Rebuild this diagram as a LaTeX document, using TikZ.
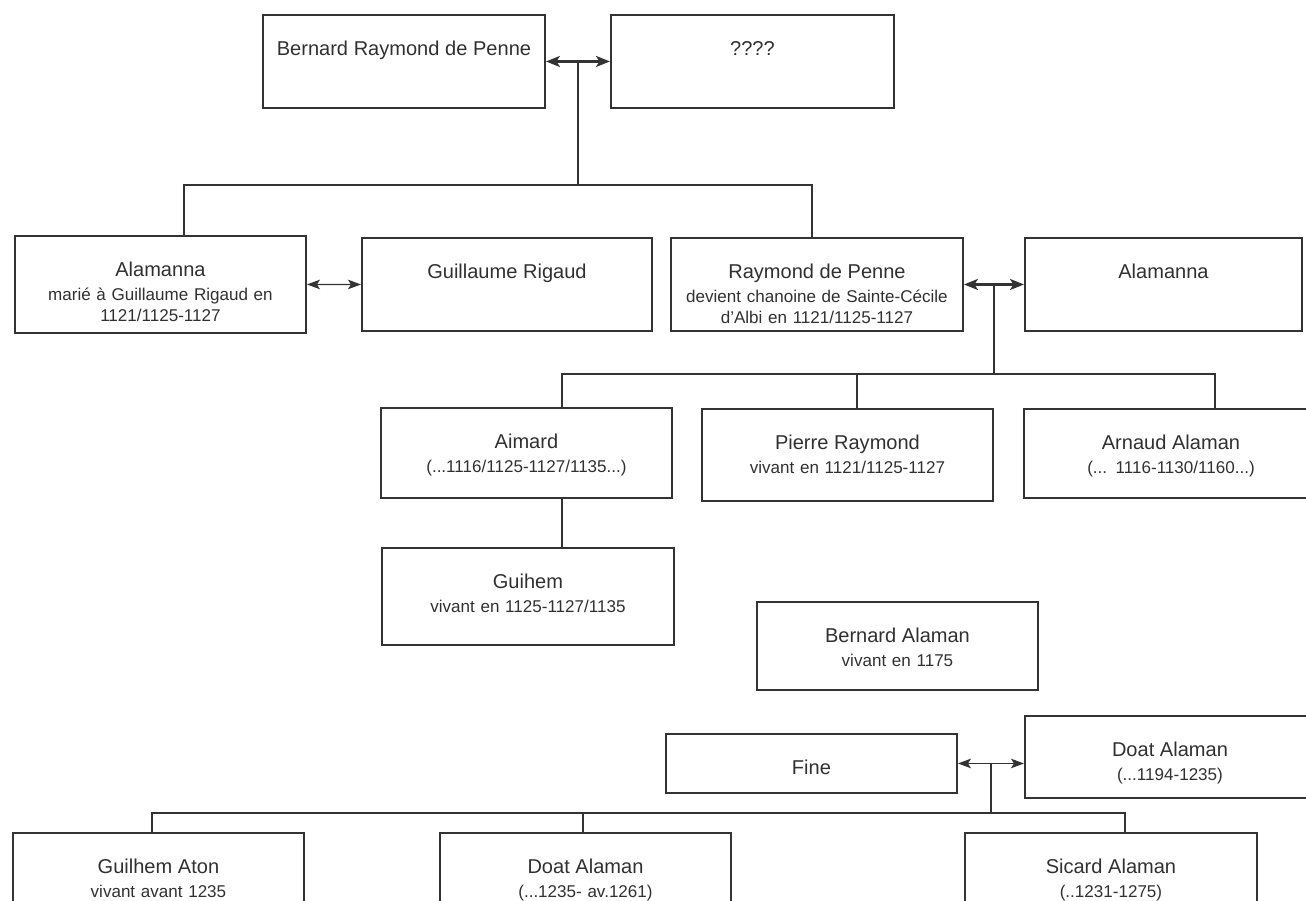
\documentclass[tikz,border=0pt]{standalone}
\usepackage{fontspec}
\setmainfont{Liberation Sans}
\usepackage{xcolor}
\definecolor{cTrait}{HTML}{333333}
\definecolor{cTexte}{HTML}{303030}
\usetikzlibrary{positioning, arrows.meta, calc}
\newcommand{\fNom}{\fontsize{11.4}{13.7}\selectfont}
\newcommand{\fDet}{\fontsize{9.7}{12.2}\selectfont}

\begin{document}
\begin{tikzpicture}[
    fiche/.style 2 args = {draw=cTrait, line width=1.1pt, anchor=north west,
                           inner sep=0pt, align=center, text width=#1,
                           text height=0.82cm, text depth=#2,
                           font=\fDet, text=cTexte},
    lien/.style  = {draw=cTrait, line width=0.8pt},
    lienf/.style = {draw=cTrait, line width=1.3pt},
    mar/.style   = {{Stealth[length=2.8mm, width=2.2mm, inset=0.7mm]}-{Stealth[length=2.8mm, width=2.2mm, inset=0.7mm]}, lienf},
    marf/.style  = {{Stealth[length=2.6mm, width=1.9mm, inset=0.6mm]}-{Stealth[length=2.6mm, width=1.9mm, inset=0.6mm]}, lien}
]
\useasboundingbox (0,0) rectangle (26.12,-18.02);

% --- Generation 1 ---------------------------------------------------------
\node[fiche={5.64cm}{1.04cm}] (brp)  at (5.24,-0.28)  {{\fNom Bernard Raymond de Penne}};
\node[fiche={5.66cm}{1.04cm}] (inc)  at (12.20,-0.28) {{\fNom ????}};

% --- Generation 2 ---------------------------------------------------------
\node[fiche={5.82cm}{1.12cm}] (alam1) at (0.28,-4.70)
  {{\fNom Alamanna}\\[1pt] marié à Guillaume Rigaud en\\ 1121/1125-1127};
\node[fiche={5.80cm}{1.04cm}] (guil)  at (7.22,-4.74)  {{\fNom Guillaume Rigaud}};
\node[fiche={5.84cm}{1.04cm}] (raym)  at (13.40,-4.74)
  {{\fNom Raymond de Penne}\\[1pt] devient chanoine de Sainte-Cécile\\ d'Albi en 1121/1125-1127};
\node[fiche={5.54cm}{1.04cm}] (alam2) at (20.48,-4.74) {{\fNom Alamanna}};

% --- Generation 3 ---------------------------------------------------------
\node[fiche={5.82cm}{0.98cm}] (aim)  at (7.60,-8.14)
  {{\fNom Aimard}\\[1pt] (...1116/1125-1127/1135...)};
\node[fiche={5.82cm}{1.02cm}] (pier) at (14.02,-8.16)
  {{\fNom Pierre Raymond}\\[1pt] vivant en 1121/1125-1127};
\node[fiche={5.88cm}{0.96cm}] (arn)  at (20.46,-8.16)
  {{\fNom Arnaud Alaman}\\[1pt] (... 1116-1130/1160...)};

% --- Generation 4 et suivantes -------------------------------------------
\node[fiche={5.84cm}{1.12cm}] (guih) at (7.62,-10.94)
  {{\fNom Guihem}\\[1pt] vivant en 1125-1127/1135};
\node[fiche={5.62cm}{0.94cm}] (bern) at (15.12,-12.02)
  {{\fNom Bernard Alaman}\\[1pt] vivant en 1175};
\node[fiche={5.82cm}{0.36cm}] (fine)  at (13.30,-14.66) {{\fNom Fine}};
\node[fiche={5.80cm}{0.82cm}] (doat1) at (20.48,-14.30)
  {{\fNom Doat Alaman}\\[1pt] (...1194-1235)};

% --- Enfants de Doat (coupes en bas) -------------------------------------
\node[fiche={5.82cm}{1.20cm}] (gato)  at (0.24,-16.64)
  {{\fNom Guilhem Aton}\\[1pt] vivant avant 1235};
\node[fiche={5.82cm}{1.20cm}] (doat2) at (8.78,-16.64)
  {{\fNom Doat Alaman}\\[1pt] (...1235- av.1261)};
\node[fiche={5.84cm}{1.20cm}] (sic)   at (19.28,-16.64)
  {{\fNom Sicard Alaman}\\[1pt] (..1231-1275)};

% --- Couple 1 et ses enfants ---------------------------------------------
\draw[mar] (brp.east) -- (inc.west);
\coordinate (m1)  at ($(brp.east)!0.5!(inc.west)$);
\coordinate (b1g) at (3.68,-3.70);
\coordinate (b1d) at (16.24,-3.70);
\draw[lienf] (m1) -- (m1 |- b1g);
\draw[lien] (alam1.north -| b1g) -- (b1g) -- (b1d) -- (raym.north -| b1d);

% --- Couple 2 et ses enfants ---------------------------------------------
\draw[marf] (alam1.east) -- (guil.west);
\draw[mar] (raym.east) -- (alam2.west);
\coordinate (m2)  at ($(raym.east)!0.5!(alam2.west)$);
\coordinate (b2g) at (11.24,-7.48);
\coordinate (b2m) at (17.14,-7.48);
\coordinate (b2d) at (24.30,-7.48);
\draw[lienf] (m2) -- (m2 |- b2g);
\draw[lien] (aim.north -| b2g) -- (b2g) -- (b2d) -- (arn.north -| b2d);
\draw[lien] (b2m) -- (pier.north -| b2m);
\draw[lienf] (aim.south -| b2g) -- (guih.north -| b2g);

% --- Couple 3 et ses enfants ---------------------------------------------
\draw[marf] (fine.east) -- (fine.east -| doat1.west);
\coordinate (m3)  at ($(fine.east)!0.5!(fine.east -| doat1.west)$);
\coordinate (b3g) at (3.04,-16.26);
\coordinate (b3m) at (11.66,-16.26);
\coordinate (b3d) at (22.50,-16.26);
\draw[lien] (m3) -- (m3 |- b3g);
\draw[lienf] (gato.north -| b3g) -- (b3g) -- (b3d) -- (sic.north -| b3d);
\draw[lien] (b3m) -- (doat2.north -| b3m);
\end{tikzpicture}
\end{document}
